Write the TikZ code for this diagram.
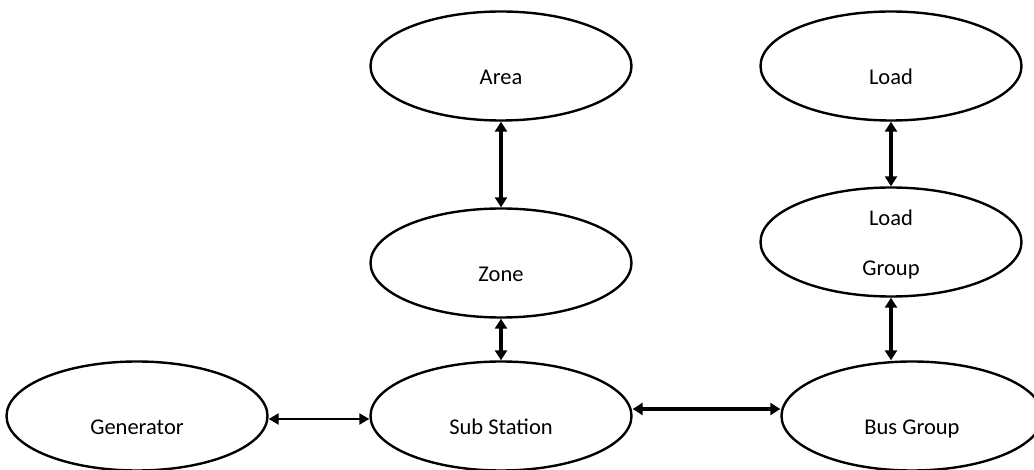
\documentclass[tikz,border=0pt]{standalone}
\usepackage{fontspec}
\setmainfont{Carlito}
\usetikzlibrary{shapes.geometric,arrows.meta}

\tikzset{
  entity/.style={ellipse, draw, line width=2.4pt, minimum width=261pt,
    minimum height=109pt, inner sep=0pt, fill=white},
  tag/.style={font=\fontsize{22.5}{27}\selectfont, text height=15pt, text depth=0pt},
  twotag/.style={align=center, font=\fontsize{22.5}{50}\selectfont},
  link/.style={line width=3.4pt,
    {Triangle[length=10pt,width=12pt]}-{Triangle[length=10pt,width=12pt]}},
  thinlink/.style={line width=2.2pt,
    {Triangle[length=10pt,width=11pt]}-{Triangle[length=10pt,width=11pt]}}
}

\begin{document}
\begin{tikzpicture}[x=1pt,y=-1pt]
  \clip (0,0) rectangle (1034,470);
  \fill[white] (0,0) rectangle (1034,470);

  % entities
  \node[entity, label={[tag, yshift=-11pt]center:Area}] (area) at (501,66) {};
  \node[entity, label={[tag, yshift=-11pt]center:Zone}] (zone) at (501,263) {};
  \node[entity, label={[tag, yshift=-11pt]center:Sub Station}] (sub) at (501,416) {};
  \node[entity, label={[tag, yshift=-11pt]center:Generator}] (gen) at (137,416) {};
  \node[entity, label={[tag, yshift=-11pt]center:Bus Group}] (bus) at (912,416) {};
  \node[entity, label={[tag, yshift=-11pt]center:Load}] (load) at (891,66) {};
  \node[entity, label={[twotag, yshift=-3pt]center:Load\\Group}] (lgroup) at (891,242) {};

  % relations
  \draw[link] (area) -- (zone);
  \draw[link] (zone) -- (sub);
  \draw[link] (load) -- (lgroup);
  \draw[link] (lgroup) -- (lgroup.south |- bus.north);
  \draw[thinlink] ([yshift=-3pt]gen.east) -- ([yshift=-3pt]sub.west);
  \draw[link] ([yshift=7pt]sub.east) -- ([yshift=7pt]bus.west);
\end{tikzpicture}
\end{document}
